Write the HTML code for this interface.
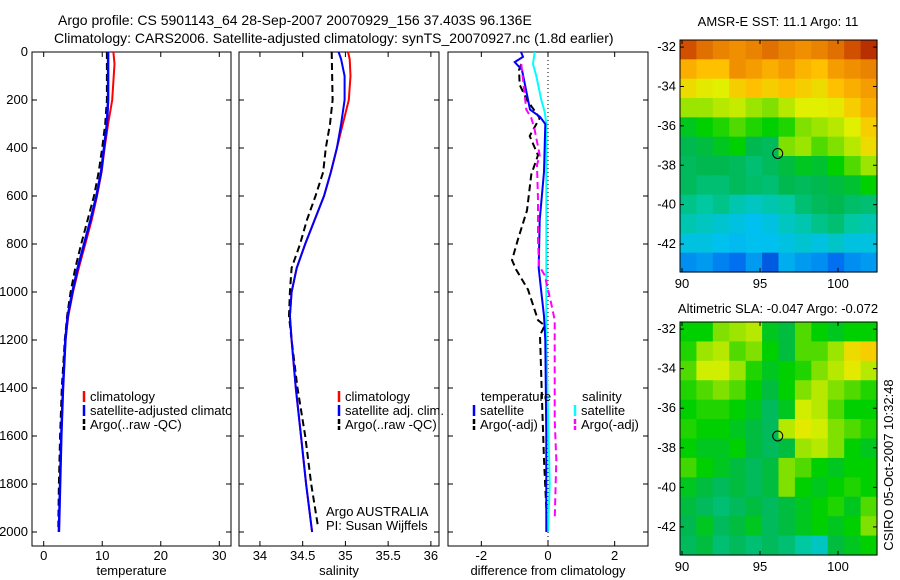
<!DOCTYPE html>
<html><head><meta charset="utf-8">
<style>
html,body{margin:0;padding:0;background:#fff;}
svg{display:block;font-family:"Liberation Sans",sans-serif;}
text{font-size:13px;fill:#000;}
</style></head>
<body>
<svg id="fig" width="900" height="580" viewBox="0 0 900 580">
<rect width="900" height="580" fill="#fff"/>
<text x="58" y="25" style="font-size:14px">Argo profile: CS 5901143_64 28-Sep-2007 20070929_156 37.403S 96.136E</text>
<text x="54" y="43" style="font-size:14px">Climatology: CARS2006. Satellite-adjusted climatology: synTS_20070927.nc (1.8d earlier)</text>
<text x="778" y="26" text-anchor="middle">AMSR-E SST: 11.1 Argo: 11</text>
<text x="778" y="313" text-anchor="middle">Altimetric SLA: -0.047 Argo: -0.072</text>
<text transform="translate(893,465) rotate(-90)" text-anchor="middle">CSIRO 05-Oct-2007 10:32:48</text>
<g id="plots"></g>
</svg>
<script>
// ---- data ----
const tempDepth = [0,50,200,300,400,500,600,700,800,900,1000,1100,1200,1400,1600,1800,2000];
const tempClim  = [11.9,12.1,11.7,11.0,10.4,9.9,9.1,8.2,7.1,6.0,5.0,4.2,3.7,3.3,3.0,2.8,2.6];
const tempSat   = [11.0,11.0,11.0,10.8,10.3,9.8,9.0,8.0,6.9,5.8,4.9,4.1,3.7,3.3,3.0,2.8,2.6];
const argoDepth = [0,50,200,300,400,500,600,700,800,900,1000,1100,1200,1400,1600,1800,1980];
const tempArgo  = [10.8,10.8,10.8,10.5,10.0,9.4,8.6,7.5,6.4,5.4,4.6,4.0,3.6,3.1,2.8,2.6,2.5];
const salDepth  = [0,30,100,200,300,400,500,600,700,800,900,1000,1100,1200,1400,1600,1800,2000];
const salClim   = [35.03,35.05,35.06,35.04,34.97,34.90,34.83,34.75,34.64,34.53,34.43,34.37,34.35,34.37,34.42,34.48,34.54,34.61];
const salSat    = [34.92,34.95,34.99,34.99,34.95,34.90,34.83,34.75,34.64,34.53,34.43,34.37,34.35,34.37,34.42,34.48,34.54,34.61];
const salArgoDepth = [0,200,300,400,500,600,700,800,900,1000,1100,1200,1400,1600,1800,1980];
const salArgo   = [34.84,34.85,34.82,34.77,34.74,34.65,34.55,34.47,34.37,34.35,34.34,34.37,34.44,34.53,34.60,34.68];
const dTsatDepth = [0,20,42,75,240,270,300,500,700,900,1000,1100,1200,1600,2000];
const dTsat      = [-0.81,-0.75,-1.0,-0.78,-0.54,-0.24,-0.08,-0.12,-0.25,-0.28,-0.2,-0.12,-0.08,-0.05,-0.05];
const dTargoDepth = [50,75,137,200,275,350,430,510,660,780,867,908,990,1117,1140,1180,1450,1700,1900];
const dTargo      = [-0.8,-0.87,-0.85,-0.63,-0.25,-0.55,-0.3,-0.5,-0.63,-0.9,-1.08,-0.95,-0.6,-0.3,-0.1,-0.24,-0.18,-0.12,-0.05];
const dSsatDepth = [0,50,100,200,250,300,700,1200,1800,2000];
const dSsat      = [-0.4,-0.45,-0.35,-0.2,-0.1,-0.05,-0.05,-0.05,0.05,0.0];
const dSargoDepth = [50,240,275,325,430,470,617,780,890,930,990,1050,1117,1534,1700,1950];
const dSargo      = [-0.8,-0.65,-0.5,-0.4,-0.25,-0.33,-0.3,-0.3,-0.27,-0.1,0.0,0.1,0.2,0.2,0.25,0.2];
const depthTicks = [0,200,400,600,800,1000,1200,1400,1600,1800,2000];
const tempTicks = [0,10,20,30];
const salTicks = [34,34.5,35,35.5,36];
const salTickLabels = ["34","34.5","35","35.5","36"];
const diffTicks = [-2,0,2];
const lonTicks = [90,95,100];
const latTicks = [-32,-34,-36,-38,-40,-42];
const sstGrid = [
[.9,.85,.82,.8,.82,.85,.82,.8,.82,.85,.9,.95],
[.75,.72,.72,.8,.78,.75,.78,.74,.72,.78,.8,.82],
[.68,.66,.65,.7,.72,.7,.72,.7,.68,.72,.75,.78],
[.6,.6,.62,.63,.6,.58,.62,.65,.65,.66,.7,.75],
[.48,.5,.52,.55,.52,.5,.52,.58,.6,.62,.65,.7],
[.45,.46,.48,.5,.45,.44,.58,.6,.55,.58,.62,.68],
[.44,.45,.45,.44,.42,.44,.46,.48,.47,.5,.55,.6],
[.44,.42,.42,.44,.43,.42,.45,.44,.45,.46,.47,.5],
[.4,.38,.4,.36,.34,.36,.38,.42,.44,.45,.43,.42],
[.36,.34,.32,.3,.28,.3,.34,.36,.4,.42,.38,.36],
[.3,.3,.28,.27,.28,.28,.3,.32,.3,.33,.3,.3],
[.2,.22,.18,.15,.22,.1,.25,.22,.2,.15,.2,.22]];
const slaGrid = [
[.5,.5,.58,.6,.62,.48,.46,.55,.5,.48,.5,.5],
[.52,.6,.62,.55,.58,.5,.46,.55,.55,.6,.68,.7],
[.55,.64,.64,.6,.52,.48,.5,.52,.58,.62,.66,.62],
[.52,.55,.58,.55,.5,.46,.5,.58,.62,.58,.55,.52],
[.5,.52,.52,.5,.48,.44,.48,.64,.62,.55,.5,.5],
[.52,.5,.5,.48,.46,.44,.62,.66,.64,.58,.55,.52],
[.5,.48,.48,.5,.46,.44,.46,.6,.62,.58,.5,.48],
[.54,.5,.48,.46,.44,.46,.58,.55,.5,.48,.5,.5],
[.48,.46,.44,.46,.44,.46,.58,.5,.48,.5,.52,.5],
[.46,.44,.42,.44,.46,.44,.46,.48,.5,.52,.48,.55],
[.45,.48,.44,.46,.48,.44,.46,.48,.5,.48,.5,.58],
[.44,.46,.42,.44,.42,.44,.42,.38,.34,.46,.48,.5]];
const argoLon = 96.136, argoLat = -37.403;

// ---- helpers ----
const NS = "http://www.w3.org/2000/svg";
const root = document.getElementById('plots');
function mk(tag, attrs, parent){ const e=document.createElementNS(NS,tag); for(const k in attrs) e.setAttribute(k,attrs[k]); (parent||root).appendChild(e); return e; }
const PT=52, PB=546;
const yD = d => PT + d*(480/2000);
function lin(d0,d1,p0,p1){ return v => p0 + (v-d0)*(p1-p0)/(d1-d0); }
const panels = [
 {name:'temperature-panel', x0:32, x1:231, sx: lin(-2,32,32,231), ticks:tempTicks, labels:tempTicks.map(String), title:'temperature', ylabels:true},
 {name:'salinity-panel', x0:239, x1:439, sx: lin(33.755,36.095,239,439), ticks:salTicks, labels:salTickLabels, title:'salinity'},
 {name:'difference-panel', x0:448, x1:648, sx: lin(-3,3,448,648), ticks:diffTicks, labels:diffTicks.map(String), title:'difference from climatology'}
];
function axesFrame(p){
  const g = mk('g',{});
  
  
  const r = mk('rect',{x:p.x0,y:PT,width:p.x1-p.x0,height:PB-PT,fill:'none',stroke:'#000','stroke-width':1},g);
  
  
  depthTicks.forEach(d=>{
    const y=yD(d);
    mk('line',{x1:p.x0,x2:p.x0+5,y1:y,y2:y,stroke:'#000'},g);
    mk('line',{x1:p.x1-5,x2:p.x1,y1:y,y2:y,stroke:'#000'},g);
    if(p.ylabels){ const t=mk('text',{x:p.x0-4,y:y+4,'text-anchor':'end'},g); t.textContent=d;
      
       }
  });
  p.ticks.forEach((v,i)=>{
    const x=p.sx(v);
    mk('line',{x1:x,x2:x,y1:PT,y2:PT+5,stroke:'#000'},g);
    mk('line',{x1:x,x2:x,y1:PB-5,y2:PB,stroke:'#000'},g);
    const t=mk('text',{x:x,y:560,'text-anchor':'middle'},g); t.textContent=p.labels[i];
    
    
  });
  const tt=mk('text',{x:(p.x0+p.x1)/2,y:575,'text-anchor':'middle'},g); tt.textContent=p.title;
  
  
}
function series(p, depths, vals, color, dashed, w, name){
  const pts = depths.map((d,i)=>p.sx(vals[i]).toFixed(1)+','+yD(d).toFixed(1)).join(' ');
  const e = mk('polyline',{points:pts,fill:'none',stroke:color,'stroke-width':w||2,'stroke-dasharray':dashed?'7,4':'none'});
  
  
}
function legend(x,y,color,dashed,label,name){
  mk('line',{x1:x,x2:x,y1:y-10,y2:y+1,stroke:color,'stroke-width':2.5,'stroke-dasharray':dashed?'5,2':'none'});
  const t=mk('text',{x:x+6,y:y}); t.textContent=label;
  
  
}
panels.forEach(axesFrame);
const [P1,P2,P3]=panels;
series(P1,tempDepth,tempClim,'#f00',false,2,'temp-climatology-line');
series(P1,argoDepth,tempArgo,'#000',true,2,'temp-argo-line');
series(P1,tempDepth,tempSat,'#00f',false,2.5,'temp-satellite-line');
series(P2,salDepth,salClim,'#f00',false,2,'sal-climatology-line');
series(P2,salArgoDepth,salArgo,'#000',true,2,'sal-argo-line');
series(P2,salDepth,salSat,'#00f',false,2,'sal-satellite-line');
mk('line',{x1:P3.sx(0),x2:P3.sx(0),y1:PT,y2:PB,stroke:'#000','stroke-dasharray':'1,3'});
series(P3,dSsatDepth,dSsat,'#0ff',false,2,'diff-sal-satellite-line');
series(P3,dTargoDepth,dTargo,'#000',true,2,'diff-temp-argo-line');
series(P3,dTsatDepth,dTsat,'#00f',false,2,'diff-temp-satellite-line');
series(P3,dSargoDepth,dSargo,'#f0f',true,2,'diff-sal-argo-line');
// legends
const clip = mk('clipPath',{id:'c1'}); mk('rect',{x:32,y:52,width:199,height:494},clip);
const lg1 = mk('g',{'clip-path':'url(#c1)'});
[['#f00',false,'climatology'],['#00f',false,'satellite-adjusted climatology'],['#000',true,'Argo(..raw -QC)']].forEach((a,i)=>{
  const y=401+i*14;
  mk('line',{x1:84,x2:84,y1:y-10,y2:y+1,stroke:a[0],'stroke-width':2.5,'stroke-dasharray':a[1]?'5,2':'none'},lg1);
  const t=mk('text',{x:90,y:y},lg1); t.textContent=a[2];
  
  
});
legend(339,401,'#f00',false,'climatology','sal-legend-climatology');
legend(339,415,'#00f',false,'satellite adj. clim.','sal-legend-satellite');
legend(339,429,'#000',true,'Argo(..raw -QC)','sal-legend-argo');
let t1=mk('text',{x:326,y:516}); t1.textContent='Argo AUSTRALIA';
 
let t2=mk('text',{x:326,y:530}); t2.textContent='PI: Susan Wijffels';
 
let t3=mk('text',{x:481,y:401}); t3.textContent='temperature';
 
let t4=mk('text',{x:582,y:401}); t4.textContent='salinity';
 
legend(474,415,'#00f',false,'satellite','diff-legend-temp-satellite');
legend(474,429,'#000',true,'Argo(-adj)','diff-legend-temp-argo');
legend(575,415,'#0ff',false,'satellite','diff-legend-sal-satellite');
legend(575,429,'#f0f',true,'Argo(-adj)','diff-legend-sal-argo');

// maps
const stops=[[0,[0,48,192]],[.15,[0,112,240]],[.28,[0,192,240]],[.38,[0,200,160]],[.45,[0,184,80]],[.5,[0,208,0]],[.58,[128,224,0]],[.65,[224,240,0]],[.72,[255,192,0]],[.8,[240,144,0]],[.9,[208,80,0]],[1,[160,16,0]]];
function cmap(v){ for(let i=1;i<stops.length;i++){ if(v<=stops[i][0]){const a=stops[i-1],b=stops[i],f=(v-a[0])/(b[0]-a[0]); return 'rgb('+a[1].map((c,k)=>Math.round(c+(b[1][k]-c)*f)).join(',')+')';}} return 'rgb(160,16,0)'; }
function drawMap(grid,x0,y0,x1,y1,name){
  const g=mk('g',{});
  
  
  const rows=grid.length, cols=grid[0].length, cw=(x1-x0)/cols, ch=(y1-y0)/rows;
  grid.forEach((row,r)=>row.forEach((v,c)=>{
    const cell=mk('rect',{x:x0+c*cw,y:y0+r*ch,width:cw+0.6,height:ch+0.6,fill:cmap(v)},g);
    
    
  }));
  const sx=lin(89.87,102.5,x0,x1), sy=lin(-31.64,-43.42,y0,y1);
  mk('rect',{x:x0,y:y0,width:x1-x0,height:y1-y0,fill:'none',stroke:'#000'},g);
  lonTicks.forEach(v=>{const x=sx(v); mk('line',{x1:x,x2:x,y1:y1-4,y2:y1,stroke:'#000'},g); mk('line',{x1:x,x2:x,y1:y0,y2:y0+4,stroke:'#000'},g);
    const t=mk('text',{x:x,y:y1+16,'text-anchor':'middle'},g); t.textContent=v;
     });
  latTicks.forEach(v=>{const y=sy(v); mk('line',{x1:x0,x2:x0+4,y1:y,y2:y,stroke:'#000'},g); mk('line',{x1:x1-4,x2:x1,y1:y,y2:y,stroke:'#000'},g);
    const t=mk('text',{x:x0-4,y:y+4,'text-anchor':'end'},g); t.textContent=v;
     });
  const c=mk('circle',{cx:sx(argoLon),cy:sy(argoLat),r:5,fill:'none',stroke:'#000'},g);
  
  
}
drawMap(sstGrid,680,40,877,272,'sst-map');
drawMap(slaGrid,680,322,877,555,'sla-map');
</script>
</body></html>
